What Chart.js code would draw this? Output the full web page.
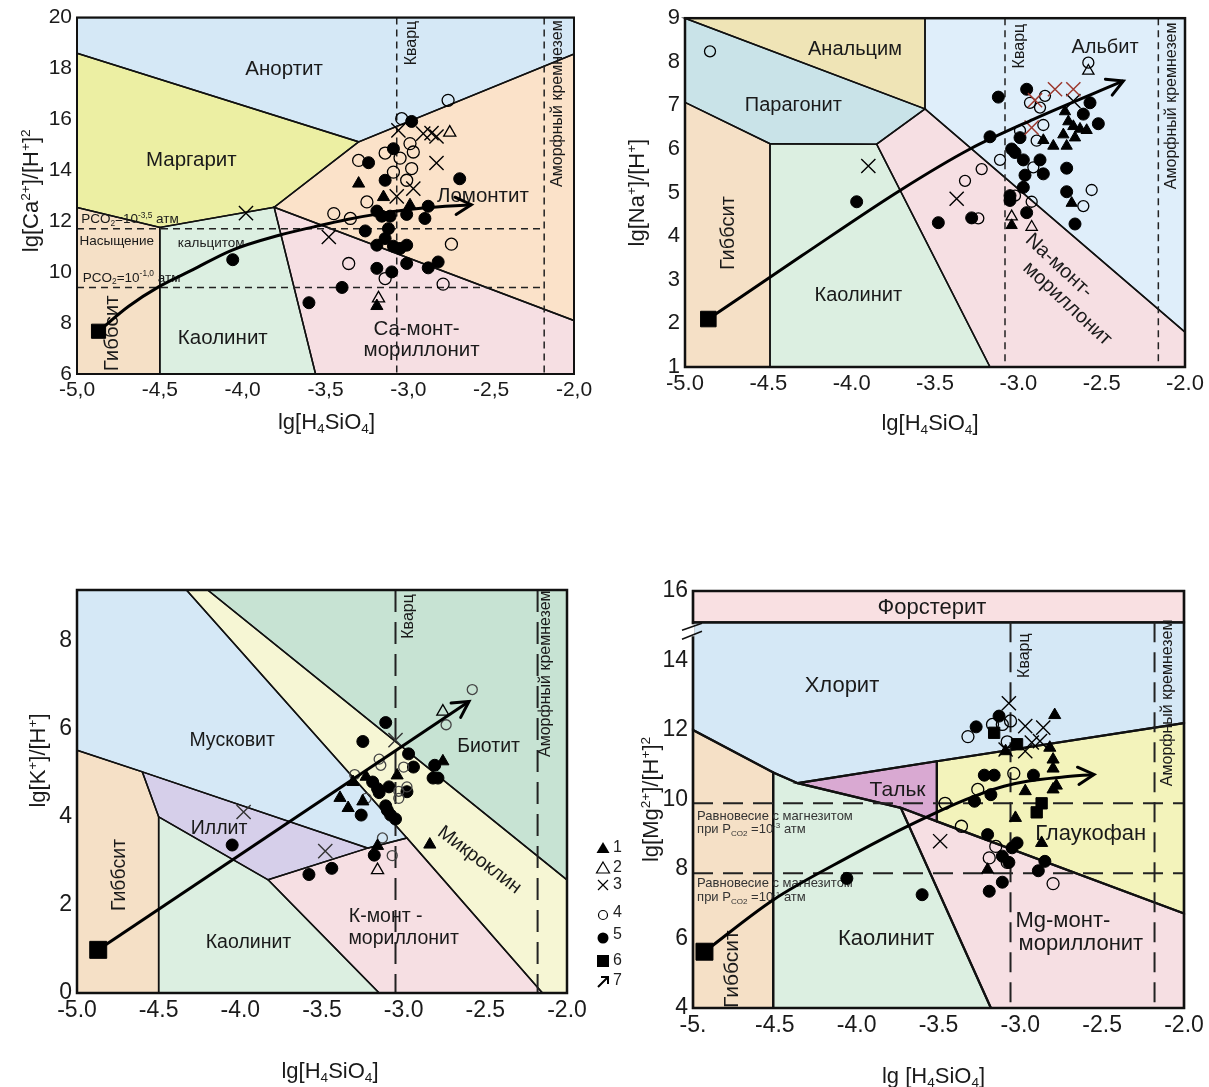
<!DOCTYPE html>
<html>
<head>
<meta charset="utf-8">
<title>Диаграммы стабильности минералов</title>
<script src="https://cdn.jsdelivr.net/npm/chart.js@4.4.1/dist/chart.umd.min.js"></script>
<style>
  html, body { margin: 0; padding: 0; background: #fff; }
  body { width: 1209px; height: 1087px; position: relative; overflow: hidden; }
  canvas { position: absolute; }
</style>
</head>
<body>
<canvas id="chartCa" width="600" height="440" style="left:0px;top:0px"></canvas>
<canvas id="chartNa" width="604" height="440" style="left:605px;top:0px"></canvas>
<canvas id="chartK" width="640" height="527" style="left:0px;top:560px"></canvas>
<canvas id="chartMg" width="589" height="527" style="left:620px;top:560px"></canvas>
<script>
// ---------- axes ----------
var xTicks = [-5, -4.5, -4, -3.5, -3, -2.5, -2];
var xLabelsCa = ['-5,0', '-4,5', '-4,0', '-3,5', '-3,0', '-2,5', '-2,0'];
var xLabelsDot = ['-5.0', '-4.5', '-4.0', '-3.5', '-3.0', '-2.5', '-2.0'];
var xLabelsMg = ['-5.', '-4.5', '-4.0', '-3.5', '-3.0', '-2.5', '-2.0'];
var yTicksCa = [6, 8, 10, 12, 14, 16, 18, 20];
var yTicksNa = [1, 2, 3, 4, 5, 6, 7, 8, 9];
var yTicksK = [0, 2, 4, 6, 8];
var yTicksMg = [4, 6, 8, 10, 12, 14, 16];

// ---------- Ca diagram ----------
var caAnorthite = [[-5, 20], [-2, 20], [-2, 18.57], [-3.30, 15.12], [-5, 18.6]];
var caMargarite = [[-5, 18.6], [-3.30, 15.12], [-3.81, 12.55], [-4.5, 11.76], [-5, 12.54]];
var caLaumontite = [[-3.30, 15.12], [-2, 18.57], [-2, 8.1], [-3.81, 12.55]];
var caCaMont = [[-3.81, 12.55], [-2, 8.1], [-2, 6], [-3.56, 6]];
var caKaolinite = [[-4.5, 11.76], [-3.81, 12.55], [-3.56, 6], [-4.5, 6]];
var caGibbsite = [[-5, 12.54], [-4.5, 11.76], [-4.5, 6], [-5, 6]];
var caTriFilled = [[-3.30, 13.48], [-3.15, 12.95], [-2.99, 12.63], [-3.19, 8.67]];
var caTriOpen = [[-2.75, 15.48], [-3.18, 8.97]];
var caCross = [[-3.98, 12.32], [-3.48, 11.38], [-3.06, 15.57], [-2.91, 15.44], [-2.86, 15.46], [-2.83, 15.33], [-2.83, 14.29], [-2.97, 13.28], [-3.07, 12.98]];
var caCircleOpen = [[-2.76, 16.75], [-3.04, 16.03], [-2.99, 15.05], [-2.97, 14.72], [-3.14, 14.68], [-3.05, 14.48], [-3.30, 14.39], [-2.98, 14.07], [-3.09, 13.93], [-3.01, 13.61], [-3.25, 12.76], [-3.45, 12.30], [-3.35, 12.11], [-2.74, 11.10], [-3.36, 10.34], [-3.14, 9.75], [-2.79, 9.53]];
var caCircleFilled = [[-2.98, 15.92], [-3.09, 14.85], [-3.24, 14.30], [-3.14, 13.61], [-2.69, 13.67], [-2.88, 12.59], [-3.19, 12.40], [-3.16, 12.20], [-3.11, 12.20], [-3.01, 12.27], [-2.90, 12.11], [-3.26, 11.62], [-3.12, 11.71], [-3.14, 11.32], [-3.19, 11.06], [-3.09, 11.02], [-3.05, 10.93], [-3.01, 11.06], [-2.82, 10.40], [-2.88, 10.17], [-3.01, 10.34], [-3.19, 10.15], [-3.10, 10.01], [-3.40, 9.40], [-3.60, 8.80], [-4.06, 10.49]];
var caStart = [[-4.87, 7.68]];
var caPath = [[-4.87, 7.68], [-4.69, 8.65], [-4.50, 9.45], [-4.30, 10.1], [-4.07, 10.85], [-3.78, 11.45], [-3.57, 11.78], [-3.37, 12.07], [-3.17, 12.30], [-2.91, 12.52], [-2.62, 12.65]];

// ---------- Na diagram ----------
var naAnalcime = [[-5, 9], [-3.56, 9], [-3.56, 6.92]];
var naParagonite = [[-5, 9], [-3.56, 6.92], [-3.85, 6.11], [-4.49, 6.12], [-5, 7.07]];
var naGibbsite = [[-5, 7.07], [-4.49, 6.12], [-4.49, 1], [-5, 1]];
var naKaolinite = [[-4.49, 6.12], [-3.85, 6.11], [-3.17, 1], [-4.49, 1]];
var naNaMont = [[-3.85, 6.11], [-3.56, 6.92], [-2, 1.8], [-2, 1], [-3.17, 1]];
var naAlbite = [[-3.56, 9], [-2, 9], [-2, 1.8], [-3.56, 6.92]];
var naTriFilled = [[-2.72, 6.86], [-2.70, 6.63], [-2.67, 6.52], [-2.63, 6.46], [-2.59, 6.43], [-2.73, 6.33], [-2.66, 6.26], [-2.79, 6.07], [-2.71, 6.07], [-2.85, 6.20], [-2.68, 4.76], [-3.04, 4.25]];
var naTriOpen = [[-2.58, 7.79], [-3.04, 4.45], [-2.92, 4.21]];
var naCrossRed = [[-2.90, 7.12], [-2.78, 7.37], [-2.67, 7.37], [-2.92, 6.49]];
var naCross = [[-3.90, 5.61], [-3.37, 4.86], [-2.67, 7.10]];
var naCircleOpen = [[-4.85, 8.24], [-2.58, 7.98], [-2.84, 7.22], [-2.93, 7.06], [-2.87, 6.95], [-2.99, 6.42], [-2.85, 6.55], [-2.89, 6.19], [-3.11, 5.75], [-3.22, 5.54], [-3.32, 5.27], [-2.91, 5.58], [-3.02, 4.93], [-2.92, 4.79], [-2.56, 5.06], [-2.61, 4.69], [-3.24, 4.41]];
var naCircleFilled = [[-3.12, 7.19], [-2.95, 7.37], [-2.57, 7.06], [-2.61, 6.80], [-2.52, 6.58], [-3.17, 6.28], [-2.99, 6.26], [-3.04, 6.00], [-3.02, 5.92], [-2.97, 5.75], [-2.87, 5.75], [-2.96, 5.40], [-2.85, 5.43], [-2.71, 5.56], [-2.97, 5.12], [-2.71, 5.02], [-3.05, 4.93], [-3.05, 4.82], [-2.95, 4.54], [-2.66, 4.28], [-3.48, 4.31], [-3.28, 4.42], [-3.97, 4.79]];
var naStart = [[-4.86, 2.10]];
var naPath = [[-4.86, 2.10], [-4.30, 3.55], [-3.71, 5.05], [-3.29, 6.0], [-2.91, 6.68], [-2.37, 7.56]];

// ---------- K diagram ----------
var kGibbsite = [[-5, 5.51], [-4.60, 5.02], [-4.5, 4.0], [-4.5, 0], [-5, 0]];
var kIllite = [[-4.60, 5.02], [-3.22, 3.29], [-3.83, 2.57], [-4.5, 4.0]];
var kKaolinite = [[-4.5, 4.0], [-3.83, 2.57], [-3.15, 0], [-4.5, 0]];
var kKMont = [[-3.83, 2.57], [-3.22, 3.29], [-2.98, 3.52], [-2.15, 0], [-3.15, 0]];
var kMuscovite = [[-5, 9.15], [-4.33, 9.15], [-2.98, 3.52], [-3.22, 3.29], [-4.60, 5.02], [-5, 5.51]];
var kMicrocline = [[-4.33, 9.15], [-4.20, 9.15], [-2, 2.57], [-2, 0], [-2.15, 0], [-2.98, 3.52]];
var kBiotite = [[-4.20, 9.15], [-2, 9.15], [-2, 2.57]];
var kTriFilled = [[-2.76, 5.26], [-3.04, 4.94], [-3.23, 4.91], [-3.31, 4.79], [-3.39, 4.43], [-3.34, 4.20], [-3.25, 4.35], [-3.16, 3.34], [-2.84, 3.37]];
var kTriOpen = [[-2.76, 6.39], [-3.16, 2.79]];
var kCross = [[-3.98, 4.11], [-3.48, 3.22], [-3.05, 5.74]];
var kCircleOpen = [[-2.58, 6.89], [-2.74, 6.09], [-3.15, 5.31], [-3.14, 5.17], [-3.0, 5.13], [-3.30, 4.96], [-2.98, 4.68], [-3.03, 4.58], [-3.03, 4.42], [-3.23, 4.42], [-3.13, 3.52], [-3.07, 3.12]];
var kCircleFilled = [[-3.11, 6.14], [-3.25, 5.71], [-2.97, 5.43], [-2.94, 5.13], [-2.81, 5.17], [-2.82, 4.88], [-2.79, 4.88], [-3.19, 4.79], [-3.16, 4.64], [-3.09, 4.68], [-3.15, 4.55], [-2.98, 4.57], [-3.11, 4.25], [-3.10, 4.15], [-3.08, 4.04], [-3.05, 3.95], [-3.26, 4.04], [-4.05, 3.36], [-3.18, 3.13], [-3.44, 2.83], [-3.58, 2.69]];
var kStart = [[-4.87, 0.98]];
var kPath = [[-4.87, 0.98], [-2.60, 6.62]];

// ---------- Mg diagram ----------
var mgForsterite = [[-5, 16], [-2, 16], [-2, 15.1], [-5, 15.1]];
var mgChlorite = [[-5, 15.1], [-2, 15.1], [-2, 12.2], [-3.51, 11.1], [-4.36, 10.47], [-4.51, 10.78], [-5, 12.0]];
var mgTalc = [[-4.36, 10.47], [-3.51, 11.1], [-3.51, 9.37], [-3.73, 9.76]];
var mgGlaucophane = [[-3.51, 11.1], [-2, 12.2], [-2, 6.72], [-3.51, 9.37]];
var mgMgMont = [[-3.73, 9.76], [-3.51, 9.37], [-2, 6.72], [-2, 4], [-3.18, 4]];
var mgKaolinite = [[-4.51, 10.78], [-4.36, 10.47], [-3.73, 9.76], [-3.18, 4], [-4.51, 4]];
var mgGibbsite = [[-5, 12.0], [-4.51, 10.78], [-4.51, 4], [-5, 4]];
var mgTriFilled = [[-2.79, 12.43], [-3.09, 11.39], [-2.82, 11.49], [-2.80, 11.15], [-2.80, 10.89], [-2.78, 10.40], [-2.80, 10.29], [-2.97, 10.24], [-3.03, 9.47], [-2.87, 8.75], [-3.20, 7.98]];
var mgCross = [[-3.07, 12.77], [-2.97, 12.11], [-2.86, 12.07], [-2.93, 11.64], [-2.88, 11.68], [-2.97, 11.39], [-3.09, 11.44], [-3.49, 8.80]];
var mgCircleOpen = [[-3.32, 11.81], [-3.17, 12.16], [-3.11, 12.16], [-3.06, 12.26], [-3.08, 11.66], [-3.04, 10.75], [-3.26, 10.29], [-3.46, 9.89], [-3.36, 9.23], [-3.15, 8.65], [-3.19, 8.32], [-3.08, 8.19], [-2.80, 7.58]];
var mgCircleFilled = [[-3.27, 12.09], [-3.13, 12.40], [-3.22, 10.70], [-3.16, 10.70], [-2.92, 10.70], [-3.18, 10.14], [-3.28, 9.95], [-3.20, 8.99], [-3.02, 8.75], [-3.05, 8.61], [-3.11, 8.37], [-3.07, 8.19], [-2.85, 8.22], [-2.89, 7.95], [-3.11, 7.62], [-3.19, 7.36], [-3.60, 7.26], [-4.06, 7.73]];
var mgSquare = [[-3.16, 11.92], [-3.02, 11.59], [-2.87, 9.89], [-2.90, 9.63]];
var mgStart = [[-4.93, 5.62]];
var mgPath = [[-4.93, 5.62], [-4.51, 7.11], [-4.02, 8.42], [-3.80, 8.97], [-3.57, 9.50], [-3.40, 9.87], [-3.25, 10.15], [-3.10, 10.38], [-2.95, 10.53], [-2.75, 10.64], [-2.55, 10.72]];

var legendNames = ['1', '2', '3', '4', '5', '6', '7'];

// ---------- drawing helpers ----------
var FONT = '"Liberation Sans", Arial, Helvetica, sans-serif';

// "lg[Ca^{2+}]" style markup -> parts with super/subscripts
function parseRich(s) {
  var parts = [], re = /(\^\{[^}]*\}|_\{[^}]*\})/g, last = 0, m;
  while ((m = re.exec(s))) {
    if (m.index > last) parts.push({ t: s.slice(last, m.index), k: 0 });
    parts.push({ t: m[0].slice(2, -1), k: m[0][0] === '^' ? 1 : -1 });
    last = re.lastIndex;
  }
  if (last < s.length) parts.push({ t: s.slice(last), k: 0 });
  return parts;
}

function drawRich(ctx, s, x, y, size, align, rot, color) {
  var parts = parseRich(s), w = 0;
  ctx.save();
  ctx.translate(x, y);
  if (rot) ctx.rotate(rot * Math.PI / 180);
  ctx.fillStyle = color || '#1a1a1a';
  ctx.textAlign = 'left';
  ctx.textBaseline = 'alphabetic';
  parts.forEach(function (p) {
    ctx.font = (p.k ? size * 0.62 : size) + 'px ' + FONT;
    p.w = ctx.measureText(p.t).width;
    w += p.w;
  });
  var cx = align === 'left' ? 0 : (align === 'right' ? -w : -w / 2);
  parts.forEach(function (p) {
    ctx.font = (p.k ? size * 0.62 : size) + 'px ' + FONT;
    var dy = p.k === 1 ? -size * 0.38 : (p.k === -1 ? size * 0.2 : 0);
    ctx.fillText(p.t, cx, size * 0.36 + dy);
    cx += p.w;
  });
  ctx.restore();
}

function pts(arr) {
  return arr.map(function (p) { return { x: p[0], y: p[1] }; });
}

function trace(ctx, poly, X, Y) {
  ctx.beginPath();
  poly.forEach(function (p, i) {
    if (i) ctx.lineTo(X(p[0]), Y(p[1])); else ctx.moveTo(X(p[0]), Y(p[1]));
  });
  ctx.closePath();
}

// regions, boundaries, dashed reference lines, labels, frame, arrowhead, titles
function diagram(o) {
  function sc(chart) {
    var xs = chart.scales.x, ys = chart.scales.y;
    return [function (v) { return xs.getPixelForValue(v); }, function (v) { return ys.getPixelForValue(v); }];
  }
  return {
    id: 'diagram',
    beforeDatasetsDraw: function (chart) {
      var ctx = chart.ctx, a = chart.chartArea, s = sc(chart), X = s[0], Y = s[1];
      ctx.save();
      o.regions.forEach(function (r) { trace(ctx, r[0], X, Y); ctx.fillStyle = r[1]; ctx.fill(); });
      ctx.strokeStyle = '#111';
      ctx.lineWidth = o.edge;
      o.regions.forEach(function (r) { trace(ctx, r[0], X, Y); ctx.stroke(); });
      ctx.setLineDash(o.dash);
      ctx.lineWidth = o.dashWidth;
      ctx.strokeStyle = '#222';
      o.dashed.forEach(function (l) {
        ctx.beginPath();
        ctx.moveTo(X(l[0]), Y(l[1]));
        ctx.lineTo(X(l[2]), Y(l[3]));
        ctx.stroke();
      });
      ctx.setLineDash([]);
      o.labels.forEach(function (t) {
        drawRich(ctx, t[0], X(t[1]), Y(t[2]), t[3], t[5] || 'center', t[4] || 0, t[6]);
      });
      ctx.lineWidth = o.frame;
      ctx.strokeStyle = '#111';
      ctx.strokeRect(a.left, a.top, a.right - a.left, a.bottom - a.top);
      ctx.restore();
    },
    afterDatasetsDraw: function (chart) {
      var ctx = chart.ctx, s = sc(chart), c = o.curve, n = c.length;
      var x1 = s[0](c[n - 2][0]), y1 = s[1](c[n - 2][1]), x2 = s[0](c[n - 1][0]), y2 = s[1](c[n - 1][1]);
      var ang = Math.atan2(y2 - y1, x2 - x1), L = o.head;
      ctx.save();
      ctx.strokeStyle = '#000';
      ctx.lineWidth = 3;
      ctx.lineCap = 'round';
      ctx.beginPath();
      ctx.moveTo(x2 - L * Math.cos(ang - 0.5), y2 - L * Math.sin(ang - 0.5));
      ctx.lineTo(x2, y2);
      ctx.lineTo(x2 - L * Math.cos(ang + 0.5), y2 - L * Math.sin(ang + 0.5));
      ctx.stroke();
      ctx.restore();
    },
    afterDraw: function (chart) {
      var ctx = chart.ctx, a = chart.chartArea, t = o.titles;
      drawRich(ctx, t.x, (a.left + a.right) / 2 + t.xdx, a.bottom + t.xdy, t.size, 'center', 0);
      drawRich(ctx, t.y, a.left + t.ydx, (a.top + a.bottom) / 2 + t.ydy, t.size, 'center', -90);
      if (o.extra) o.extra(chart, sc(chart));
    }
  };
}

function marks(data, style, r, fill, stroke, bw) {
  return { data: pts(data), pointStyle: style, pointRadius: r, backgroundColor: fill, borderColor: stroke, borderWidth: bw };
}

function markerSets(m) {
  var clear = 'rgba(0,0,0,0)';
  var sets = [
    marks(m.start, 'rect', m.startR, '#000', '#000', 1),
    { data: pts(m.curve), showLine: true, pointRadius: 0, borderColor: '#000', borderWidth: 3,
      cubicInterpolationMode: 'monotone', fill: false }
  ];
  if (m.square) sets.push(marks(m.square, 'rect', 8, '#000', '#000', 1));
  sets.push(marks(m.triFilled, 'triangle', m.tri, '#000', '#000', 1));
  if (m.triOpen) sets.push(marks(m.triOpen, 'triangle', m.tri, clear, '#000', 1.3));
  if (m.crossRed) sets.push(marks(m.crossRed, 'crossRot', m.cross, clear, '#9c3a30', 1.5));
  sets.push(marks(m.crossBlack, 'crossRot', m.cross, clear, m.crossColor || '#000', 1.4));
  sets.push(marks(m.circleOpen, 'circle', m.openR, clear, m.openColor || '#000', 1.3));
  sets.push(marks(m.circleFilled, 'circle', m.dot, '#000', '#000', 1));
  return sets;
}

function makeChart(id, box, ticks, o, m) {
  var lay = { left: 0, top: box.top - box.y0, right: box.w - (box.right - box.x0), bottom: 0 };
  return new Chart(document.getElementById(id), {
    type: 'scatter',
    data: { datasets: markerSets(m) },
    options: {
      responsive: false,
      animation: false,
      events: [],
      layout: { padding: lay },
      plugins: { legend: { display: false }, tooltip: { enabled: false } },
      scales: {
        x: {
          type: 'linear', min: -5, max: -2,
          grid: { display: false, drawTicks: false }, border: { display: false },
          afterBuildTicks: function (s) { s.ticks = xTicks.map(function (v) { return { value: v }; }); },
          ticks: { callback: function (v, i) { return ticks.xl[i]; }, autoSkip: false, maxRotation: 0,
                   font: { family: FONT, size: ticks.size }, color: '#1a1a1a', padding: 4 },
          afterFit: function (s) { s.height = box.y0 + box.h - box.bottom; }
        },
        y: {
          type: 'linear', min: ticks.ymin, max: ticks.ymax,
          grid: { display: false, drawTicks: false }, border: { display: false },
          afterBuildTicks: function (s) { s.ticks = ticks.yv.map(function (v) { return { value: v }; }); },
          ticks: { callback: function (v) { return String(v); }, autoSkip: false,
                   font: { family: FONT, size: ticks.size }, color: '#1a1a1a', padding: 5 },
          afterFit: function (s) { s.width = box.left - box.x0; }
        }
      }
    },
    plugins: [diagram(o)]
  });
}

var BLUE = '#d5e8f6', PINK = '#f6dfe3', GREEN = '#dcefe1', TAN = '#f5e0c6';
var H4 = 'lg[H_{4}SiO_{4}]';

// ---------- Ca ----------
makeChart('chartCa',
  { x0: 0, y0: 0, w: 600, h: 440, left: 77, top: 17, right: 574, bottom: 374 },
  { xl: xLabelsCa, yv: yTicksCa, ymin: 6, ymax: 20, size: 21 },
  {
    regions: [[caAnorthite, BLUE], [caMargarite, '#ecefa3'], [caLaumontite, '#fbe2c9'],
              [caCaMont, PINK], [caKaolinite, GREEN], [caGibbsite, TAN]],
    edge: 1.5, frame: 2, dash: [7, 5], dashWidth: 1.5,
    dashed: [[-3.07, 20, -3.07, 6], [-2.18, 20, -2.18, 6], [-5, 11.71, -2.18, 11.71], [-5, 9.40, -2.18, 9.40]],
    labels: [
      ['Анортит', -3.75, 18.05, 20.5], ['Маргарит', -4.31, 14.47, 20.5], ['Ломонтит', -2.55, 13.05, 20.5],
      ['Каолинит', -4.12, 7.45, 20.5], ['Ca-монт-', -2.95, 7.84, 20.5], ['мориллонит', -2.92, 6.98, 20.5],
      ['Гиббсит', -4.80, 7.6, 20.5, -90], ['Кварц', -2.99, 19.0, 16, -90],
      ['Аморфный кремнезем', -2.11, 16.62, 16, -90],
      ['PCO_{2}=10^{-3,5} атм', -4.975, 12.12, 13.5, 0, 'left'],
      ['Насыщение', -4.76, 11.25, 13.5], ['кальцитом', -4.19, 11.19, 13.5],
      ['PCO_{2}=10^{-1,0} атм', -4.965, 9.82, 13.5, 0, 'left']
    ],
    curve: caPath, head: 18,
    titles: { x: H4, y: 'lg[Ca^{2+}]/[H^{+}]^{2}', size: 22, xdx: 1, xdy: 47, ydx: -47, ydy: -5 }
  },
  { start: caStart, startR: 10, curve: caPath, triFilled: caTriFilled, triOpen: caTriOpen, tri: 7,
    crossBlack: caCross, cross: 10, circleOpen: caCircleOpen, openR: 6, circleFilled: caCircleFilled, dot: 6 });

// ---------- Na ----------
makeChart('chartNa',
  { x0: 605, y0: 0, w: 604, h: 440, left: 685, top: 17, right: 1185, bottom: 367 },
  { xl: xLabelsDot, yv: yTicksNa, ymin: 1, ymax: 9, size: 22 },
  {
    regions: [[naAnalcime, '#efe4b6'], [naParagonite, '#c9e3e8'], [naGibbsite, TAN],
              [naKaolinite, GREEN], [naNaMont, PINK], [naAlbite, '#dfeefa']],
    edge: 1.5, frame: 2.5, dash: [7, 5], dashWidth: 1.5,
    dashed: [[-3.08, 9, -3.08, 1], [-2.16, 9, -2.16, 1]],
    labels: [
      ['Анальцим', -3.98, 8.32, 20], ['Парагонит', -4.35, 7.03, 20], ['Альбит', -2.48, 8.36, 20],
      ['Гиббсит', -4.75, 4.07, 20, -90], ['Каолинит', -3.96, 2.67, 20],
      ['Na-монт-', -2.75, 3.35, 20, 43], ['мориллонит', -2.70, 2.48, 20, 43],
      ['Кварц', -3.0, 8.36, 16, -90], ['Аморфный кремнезем', -2.09, 6.99, 16, -90]
    ],
    curve: naPath, head: 18,
    titles: { x: H4, y: 'lg[Na^{+}]/[H^{+}]', size: 22, xdx: -5, xdy: 55, ydx: -49, ydy: 0 }
  },
  { start: naStart, startR: 11, curve: naPath, triFilled: naTriFilled, triOpen: naTriOpen, tri: 6.5,
    crossRed: naCrossRed, crossBlack: naCross, cross: 10, circleOpen: naCircleOpen, openR: 5.5,
    circleFilled: naCircleFilled, dot: 6 });

// ---------- K ----------
makeChart('chartK',
  { x0: 0, y0: 560, w: 640, h: 527, left: 77, top: 590, right: 567, bottom: 993 },
  { xl: xLabelsDot, yv: yTicksK, ymin: 0, ymax: 9.15, size: 23 },
  {
    regions: [[kGibbsite, TAN], [kIllite, '#d6cfea'], [kKaolinite, GREEN], [kKMont, PINK],
              [kMuscovite, BLUE], [kMicrocline, '#f6f6d4'], [kBiotite, '#c7e3d3']],
    edge: 1.5, frame: 2.5, dash: [22, 10], dashWidth: 2,
    dashed: [[-3.05, 9.15, -3.05, 0], [-2.18, 9.15, -2.18, 0]],
    labels: [
      ['Мусковит', -4.05, 5.77, 19.5], ['Иллит', -4.13, 3.77, 19.5], ['Биотит', -2.48, 5.62, 19.5],
      ['Микроклин', -2.53, 3.05, 19.5, 37], ['Гиббсит', -4.75, 2.68, 19.5, -90],
      ['Каолинит', -3.95, 1.17, 19.5], ['К-монт -', -3.11, 1.77, 19.5], ['мориллонит', -3.0, 1.28, 19.5],
      ['Кварц', -2.98, 8.55, 16, -90], ['Аморфный кремнезем', -2.14, 7.25, 16, -90]
    ],
    curve: kPath, head: 18,
    titles: { x: H4, y: 'lg[K^{+}]/[H^{+}]', size: 22, xdx: 8, xdy: 77, ydx: -40, ydy: -31 },
    extra: function (chart) {
      // legend 1..7 to the right of the frame
      var ctx = chart.ctx, a = chart.chartArea, lx = a.right + 36;
      var dys = [-145, -125, -108, -80, -58, -32, -12];
      ctx.save();
      ctx.strokeStyle = '#000';
      ctx.fillStyle = '#000';
      dys.forEach(function (dy, i) {
        var y = a.bottom + dy;
        ctx.lineWidth = 1.2;
        ctx.beginPath();
        if (i === 0 || i === 1) {
          ctx.moveTo(lx, y - 6); ctx.lineTo(lx + 6.5, y + 5); ctx.lineTo(lx - 6.5, y + 5); ctx.closePath();
          if (i === 0) ctx.fill(); else ctx.stroke();
        } else if (i === 2) {
          ctx.moveTo(lx - 5, y - 5); ctx.lineTo(lx + 5, y + 5); ctx.moveTo(lx + 5, y - 5); ctx.lineTo(lx - 5, y + 5);
          ctx.stroke();
        } else if (i === 3) {
          ctx.arc(lx, y + 2, 4.5, 0, 2 * Math.PI); ctx.stroke();
        } else if (i === 4) {
          ctx.arc(lx, y + 3, 5.5, 0, 2 * Math.PI); ctx.fill();
        } else if (i === 5) {
          ctx.rect(lx - 6, y - 6, 12, 12); ctx.fill();
        } else {
          ctx.lineWidth = 2;
          ctx.moveTo(lx - 5, y + 6); ctx.lineTo(lx + 5, y - 4);
          ctx.moveTo(lx - 2, y - 4); ctx.lineTo(lx + 5, y - 4); ctx.lineTo(lx + 5, y + 3);
          ctx.stroke();
        }
        drawRich(ctx, legendNames[i], lx + 10, y - 2, 16, 'left', 0, '#222');
      });
      ctx.restore();
    }
  },
  { start: kStart, startR: 12, curve: kPath, triFilled: kTriFilled, triOpen: kTriOpen, tri: 7,
    crossBlack: kCross, crossColor: '#333', cross: 10, circleOpen: kCircleOpen, openR: 5, openColor: '#444',
    circleFilled: kCircleFilled, dot: 6 });

// ---------- Mg ----------
makeChart('chartMg',
  { x0: 620, y0: 560, w: 589, h: 527, left: 693, top: 591, right: 1184, bottom: 1008 },
  { xl: xLabelsMg, yv: yTicksMg, ymin: 4, ymax: 16, size: 23 },
  {
    regions: [[mgForsterite, '#f9e0e2'], [mgChlorite, BLUE], [mgTalc, '#d9a9d2'], [mgGlaucophane, '#f3f3bb'],
              [mgMgMont, PINK], [mgKaolinite, GREEN], [mgGibbsite, TAN]],
    edge: 2.2, frame: 2.5, dash: [20, 10], dashWidth: 2,
    dashed: [[-3.06, 15.1, -3.06, 4], [-2.18, 15.1, -2.18, 4], [-5, 9.89, -2, 9.89], [-5, 7.88, -2, 7.88]],
    labels: [
      ['Форстерит', -3.54, 15.58, 22], ['Хлорит', -4.09, 13.32, 22], ['Тальк', -3.75, 10.32, 21],
      ['Глаукофан', -2.57, 9.05, 22], ['Каолинит', -3.82, 6.03, 22], ['Mg-монт-', -2.74, 6.56, 22],
      ['мориллонит', -2.63, 5.91, 22], ['Гиббсит', -4.77, 5.12, 21, -90],
      ['Кварц', -2.98, 14.14, 16, -90], ['Аморфный кремнезем', -2.11, 12.78, 16, -90],
      ['Равновесие с магнезитом', -4.975, 9.55, 13, 0, 'left', '#333'],
      ['при P_{CO2} =10^{-3} атм', -4.975, 9.17, 13, 0, 'left', '#333'],
      ['Равновесие с магнезитом', -4.975, 7.63, 13, 0, 'left', '#333'],
      ['при P_{CO2} =10^{-1} атм', -4.975, 7.2, 13, 0, 'left', '#333']
    ],
    curve: mgPath, head: 18,
    titles: { x: 'lg [H_{4}SiO_{4}]', y: 'lg[Mg^{2+}]/[H^{+}]^{2}', size: 22, xdx: -5, xdy: 67, ydx: -43, ydy: 0 },
    extra: function (chart, s) {
      // axis break "//" just below the forsterite band
      var ctx = chart.ctx, a = chart.chartArea, yb = s[1](15.1);
      ctx.save();
      ctx.fillStyle = '#fff';
      ctx.fillRect(a.left - 2, yb + 2, 3.5, 12);
      ctx.strokeStyle = '#111';
      ctx.lineWidth = 1.5;
      ctx.beginPath();
      ctx.moveTo(a.left - 11, yb + 8); ctx.lineTo(a.left + 9, yb + 1);
      ctx.moveTo(a.left - 11, yb + 17); ctx.lineTo(a.left + 9, yb + 9);
      ctx.stroke();
      ctx.restore();
    }
  },
  { start: mgStart, startR: 12, curve: mgPath, square: mgSquare, triFilled: mgTriFilled, tri: 7,
    crossBlack: mgCross, cross: 10, circleOpen: mgCircleOpen, openR: 6, circleFilled: mgCircleFilled, dot: 6 });
</script>
</body>
</html>
